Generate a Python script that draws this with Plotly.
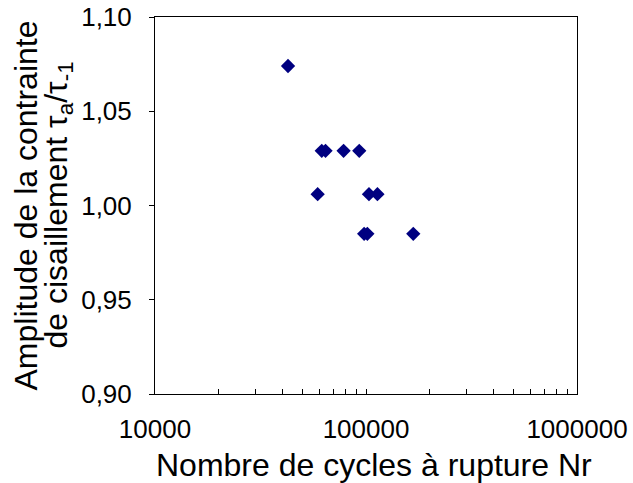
import plotly.graph_objects as go

# cycles to failure and normalised shear stress amplitude
nr = [42700, 61700, 64300, 78300, 92900, 59000, 103300, 113300, 98000, 101500, 167500]
tau_ratio = [1.074, 1.029, 1.029, 1.029, 1.029, 1.006, 1.006, 1.006, 0.985, 0.985, 0.985]

x_title = "Nombre de cycles à rupture Nr"
y_title_1 = "Amplitude de la contrainte"
y_title_2 = "de cisaillement τ<sub>a</sub>/τ<sub>-1</sub>"

font = "Liberation Sans, Arial, sans-serif"

fig = go.Figure()
fig.add_trace(go.Scatter(
    x=nr, y=tau_ratio, mode="markers",
    marker=dict(symbol="diamond", size=11, color="#000080", line=dict(width=0)),
    showlegend=False,
))

fig.update_xaxes(
    type="log", range=[4, 6], dtick=1, tickformat="d",
    showline=True, linecolor="black", linewidth=1, mirror=True,
    ticks="inside", ticklen=5, tickcolor="black",
    minor=dict(ticks="inside", ticklen=5, tickcolor="black", showgrid=False),
    showgrid=False, zeroline=False, ticklabelstandoff=12, automargin=False,
    ticklabeloverflow="allow",
    tickfont=dict(family=font, size=26, color="black"),
)
fig.update_yaxes(
    range=[0.9, 1.1], dtick=0.05, tickformat=".2f",
    showline=True, linecolor="black", linewidth=1, mirror=True,
    ticks="outside", ticklen=5, tickcolor="black",
    showgrid=False, zeroline=False, ticklabelstandoff=12, automargin=False,
    ticklabeloverflow="allow",
    tickfont=dict(family=font, size=26, color="black"),
)

fig.add_annotation(text=x_title, xref="paper", yref="paper", x=0.52, y=(394 - 465) / 377,
                   xanchor="center", yanchor="middle", showarrow=False,
                   font=dict(family=font, size=32, color="black"))
fig.add_annotation(text=y_title_1, xref="paper", yref="paper", x=(25 - 155) / 422, y=0.5,
                   xanchor="center", yanchor="middle", showarrow=False, textangle=-90,
                   font=dict(family=font, size=32, color="black"))
fig.add_annotation(text=y_title_2, xref="paper", yref="paper", x=(58 - 155) / 422, y=0.5,
                   xanchor="center", yanchor="middle", showarrow=False, textangle=-90,
                   font=dict(family=font, size=32, color="black"))

fig.update_layout(
    width=633, height=483,
    margin=dict(l=155, r=56, t=17, b=89),
    paper_bgcolor="white", plot_bgcolor="white",
    separators=", ",
)

# drop the default body margin so the figure sits at the page corner
fig.write_html("out.html", config={"displayModeBar": False},
               post_script="document.body.style.margin='0px';")
